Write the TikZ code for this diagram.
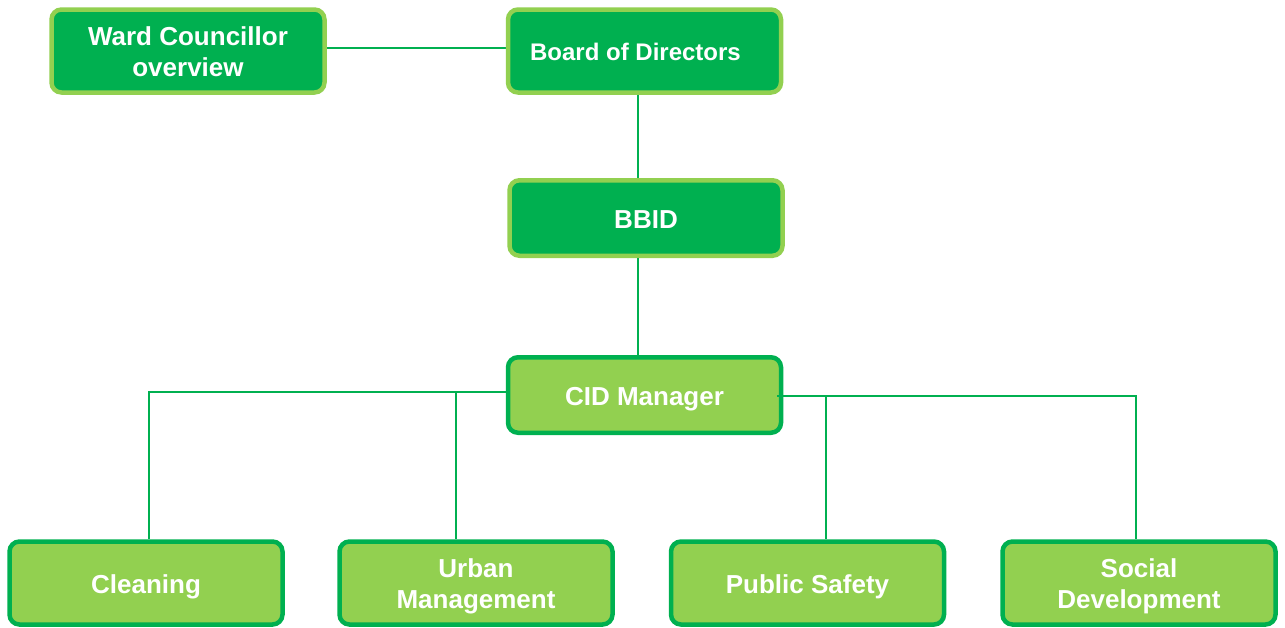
\documentclass[tikz,border=0pt]{standalone}
\usepackage{fontspec}
\setmainfont{Liberation Sans}
\definecolor{dgreen}{HTML}{00B050}
\definecolor{lgreen}{HTML}{92D050}
% centred block of lines, drawn a little below the box centre
\newcommand\boxtext[1]{\raisebox{-4pt}[\height][\depth]{\begin{tabular}{@{}c@{}}#1\end{tabular}}}
\begin{document}
\begin{tikzpicture}[x=1pt,y=-1pt,
  boxbase/.style={rectangle, rounded corners=10pt, line width=4.5pt,
    minimum width=273pt, minimum height=83pt, inner sep=0pt,
    text=white, font=\bfseries\fontsize{26}{31}\selectfont},
  dbox/.style={boxbase, draw=lgreen, fill=dgreen},
  lbox/.style={boxbase, draw=dgreen, fill=lgreen},
  link/.style={draw=dgreen, line width=2pt}]
\useasboundingbox (0,0) rectangle (1285,627);

% connectors, drawn first so the boxes sit on top
\coordinate (wardlink) at (326,48);
\coordinate (boardlink) at (507,48);
\draw[link] (wardlink) -- (boardlink);

% upper chain
\node[dbox] (ward) at (188,51) {\boxtext{Ward Councillor\\overview}};
\node[dbox, font=\bfseries\fontsize{24}{29}\selectfont] (board) at (644.5,51) {\hspace*{-18pt}\boxtext{Board of Directors}};
\node[dbox, minimum height=75.5pt] (bbid) at (646,218) {\boxtext{BBID}};
\node[lbox, minimum height=75.5pt] (cid) at (644.5,395) {\boxtext{CID Manager}};

% departments
\node[lbox] (clean) at (146,583) {\boxtext{Cleaning}};
\node[lbox] (urban) at (476,583) {\boxtext{Urban\\Management}};
\node[lbox] (safety) at (807.5,583) {\boxtext{Public Safety}};
\node[lbox] (social) at (1139,583) {\boxtext{Social\\Development}};

\draw[link] ([xshift=-6.5pt]board.south) -- ([xshift=-8pt]bbid.north);
\draw[link] ([xshift=-8pt]bbid.south) -- ([xshift=-6.5pt]cid.north);
\draw[link] ([yshift=3pt]cid.west) -| ([xshift=3pt]clean.north);
\draw[link] ([yshift=3pt]cid.west) -| ([xshift=-20pt]urban.north);
\draw[link] ([xshift=-6pt,yshift=-1pt]cid.east) -| ([xshift=18.5pt]safety.north);
\draw[link] ([xshift=-6pt,yshift=-1pt]cid.east) -| ([xshift=-3pt]social.north);
\end{tikzpicture}
\end{document}
